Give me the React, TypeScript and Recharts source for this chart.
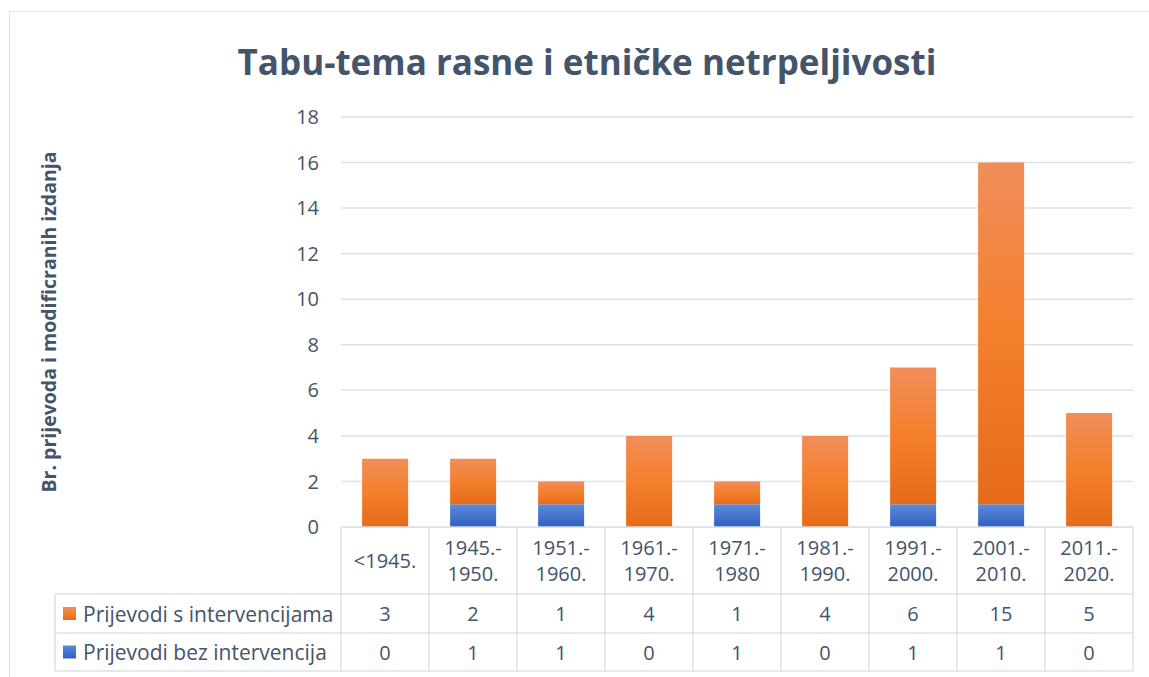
import React from "react";
import { BarChart, Bar, XAxis, YAxis, CartesianGrid } from "recharts";

const categories = [
  "<1945.",
  "1945.-\n1950.",
  "1951.-\n1960.",
  "1961.-\n1970.",
  "1971.-\n1980",
  "1981.-\n1990.",
  "1991.-\n2000.",
  "2001.-\n2010.",
  "2011.-\n2020.",
];
const withInterventions = [3, 2, 1, 4, 1, 4, 6, 15, 5];
const withoutInterventions = [0, 1, 1, 0, 1, 0, 1, 1, 0];
const yTicks = [0, 2, 4, 6, 8, 10, 12, 14, 16, 18];

const seriesRows = [
  { name: "Prijevodi s intervencijama", values: withInterventions, key: "orange" },
  { name: "Prijevodi bez intervencija", values: withoutInterventions, key: "blue" },
];

const data = categories.map((c, i) => ({
  cat: c,
  s: withInterventions[i],
  b: withoutInterventions[i],
}));

const W = 1149;
const H = 677;
const PLOT_LEFT = 341;
const PLOT_RIGHT = 1133;
const PLOT_TOP = 117;
const PLOT_BOTTOM = 527;
const BAND = (PLOT_RIGHT - PLOT_LEFT) / categories.length;
const HEAD_BOTTOM = 594;
const ROW_BOTTOMS = [633, 671];
const LEGEND_LEFT = 55;

const TEXT = "#44546a";
const LINE = "#dde1e7";
const FONT = "'Open Sans', sans-serif";

function TableTick(props: any) {
  const { x, index } = props;
  const left = x - BAND / 2;
  const lines = categories[index].split("\n");
  const rowTops = [HEAD_BOTTOM, ROW_BOTTOMS[0]];
  return (
    <g fontFamily={FONT} fill={TEXT}>
      <line x1={left} x2={left} y1={PLOT_BOTTOM} y2={ROW_BOTTOMS[1]} stroke={LINE} strokeWidth={1.5} />
      {index === categories.length - 1 && (
        <line x1={left + BAND} x2={left + BAND} y1={PLOT_BOTTOM} y2={ROW_BOTTOMS[1]} stroke={LINE} strokeWidth={1.5} />
      )}
      {lines.map((l, k) => (
        <text
          key={k}
          x={x}
          y={(PLOT_BOTTOM + HEAD_BOTTOM) / 2 + (k - (lines.length - 1) / 2) * 26}
          textAnchor="middle"
          dominantBaseline="central"
          fontSize={20}
        >
          {l}
        </text>
      ))}
      {seriesRows.map((r, k) => (
        <text
          key={r.key}
          x={x}
          y={(rowTops[k] + ROW_BOTTOMS[k]) / 2}
          textAnchor="middle"
          dominantBaseline="central"
          fontSize={20}
        >
          {r.values[index]}
        </text>
      ))}
      {index === 0 && (
        <g>
          <line x1={LEGEND_LEFT} x2={PLOT_RIGHT} y1={HEAD_BOTTOM} y2={HEAD_BOTTOM} stroke={LINE} strokeWidth={1.5} />
          <line x1={LEGEND_LEFT} x2={PLOT_RIGHT} y1={ROW_BOTTOMS[0]} y2={ROW_BOTTOMS[0]} stroke={LINE} strokeWidth={1.5} />
          <line x1={LEGEND_LEFT} x2={PLOT_RIGHT} y1={ROW_BOTTOMS[1]} y2={ROW_BOTTOMS[1]} stroke={LINE} strokeWidth={1.5} />
          <line x1={LEGEND_LEFT} x2={LEGEND_LEFT} y1={HEAD_BOTTOM} y2={ROW_BOTTOMS[1]} stroke={LINE} strokeWidth={1.5} />
          {seriesRows.map((r, k) => {
            const cy = (rowTops[k] + ROW_BOTTOMS[k]) / 2;
            return (
              <g key={r.key}>
                <rect x={63} y={cy - 6.5} width={13} height={13} fill={`url(#grad-${r.key})`} />
                <text x={83} y={cy} dominantBaseline="central" fontSize={21}>
                  {r.name}
                </text>
              </g>
            );
          })}
        </g>
      )}
    </g>
  );
}

export default function App() {
  return (
    <div style={{ position: "absolute", left: 0, top: 0, width: W, height: H, background: "#fff", overflow: "hidden" }}>
      <div
        style={{
          position: "absolute",
          left: 9,
          top: 11,
          width: W,
          height: H,
          border: "1.5px solid #dde1e7",
        }}
      />
      <div
        style={{
          position: "absolute",
          left: 0,
          width: W,
          top: 36,
          textAlign: "center",
          paddingLeft: 25,
          boxSizing: "border-box",
          fontFamily: FONT,
          fontWeight: 700,
          fontSize: 35,
          color: TEXT,
          lineHeight: "52px",
        }}
      >
        Tabu-tema rasne i etničke netrpeljivosti
      </div>
      <div
        style={{
          position: "absolute",
          left: 48,
          top: 322,
          transform: "translate(-50%, -50%) rotate(-90deg)",
          whiteSpace: "nowrap",
          fontFamily: FONT,
          fontWeight: 700,
          fontSize: 19.5,
          color: TEXT,
        }}
      >
        Br. prijevoda i modificranih izdanja
      </div>
      <div style={{ position: "absolute", left: 0, top: 0 }}>
        <BarChart
          width={W}
          height={H}
          data={data}
          margin={{ top: PLOT_TOP, right: W - PLOT_RIGHT, bottom: 0, left: 0 }}
          barCategoryGap="24%"
        >
          <defs>
            <linearGradient id="grad-orange" x1="0" y1="0" x2="0" y2="1">
              <stop offset="0%" stopColor="#f08e5a" />
              <stop offset="50%" stopColor="#f47f2c" />
              <stop offset="100%" stopColor="#e46b19" />
            </linearGradient>
            <linearGradient id="grad-blue" x1="0" y1="0" x2="0" y2="1">
              <stop offset="0%" stopColor="#5e8ad6" />
              <stop offset="100%" stopColor="#2e62c2" />
            </linearGradient>
          </defs>
          <CartesianGrid vertical={false} stroke={LINE} strokeWidth={1.5} />
          <XAxis
            dataKey="cat"
            height={H - PLOT_BOTTOM}
            interval={0}
            tickLine={false}
            axisLine={{ stroke: LINE, strokeWidth: 1.5 }}
            tick={<TableTick />}
          />
          <YAxis
            width={PLOT_LEFT}
            domain={[0, 18]}
            ticks={yTicks}
            axisLine={false}
            tickLine={false}
            tickSize={0}
            tickMargin={22}
            tick={{ fill: TEXT, fontSize: 20, fontFamily: FONT }}
          />
          <Bar dataKey="b" stackId="a" fill="url(#grad-blue)" isAnimationActive={false} />
          <Bar dataKey="s" stackId="a" fill="url(#grad-orange)" isAnimationActive={false} />
        </BarChart>
      </div>
    </div>
  );
}
